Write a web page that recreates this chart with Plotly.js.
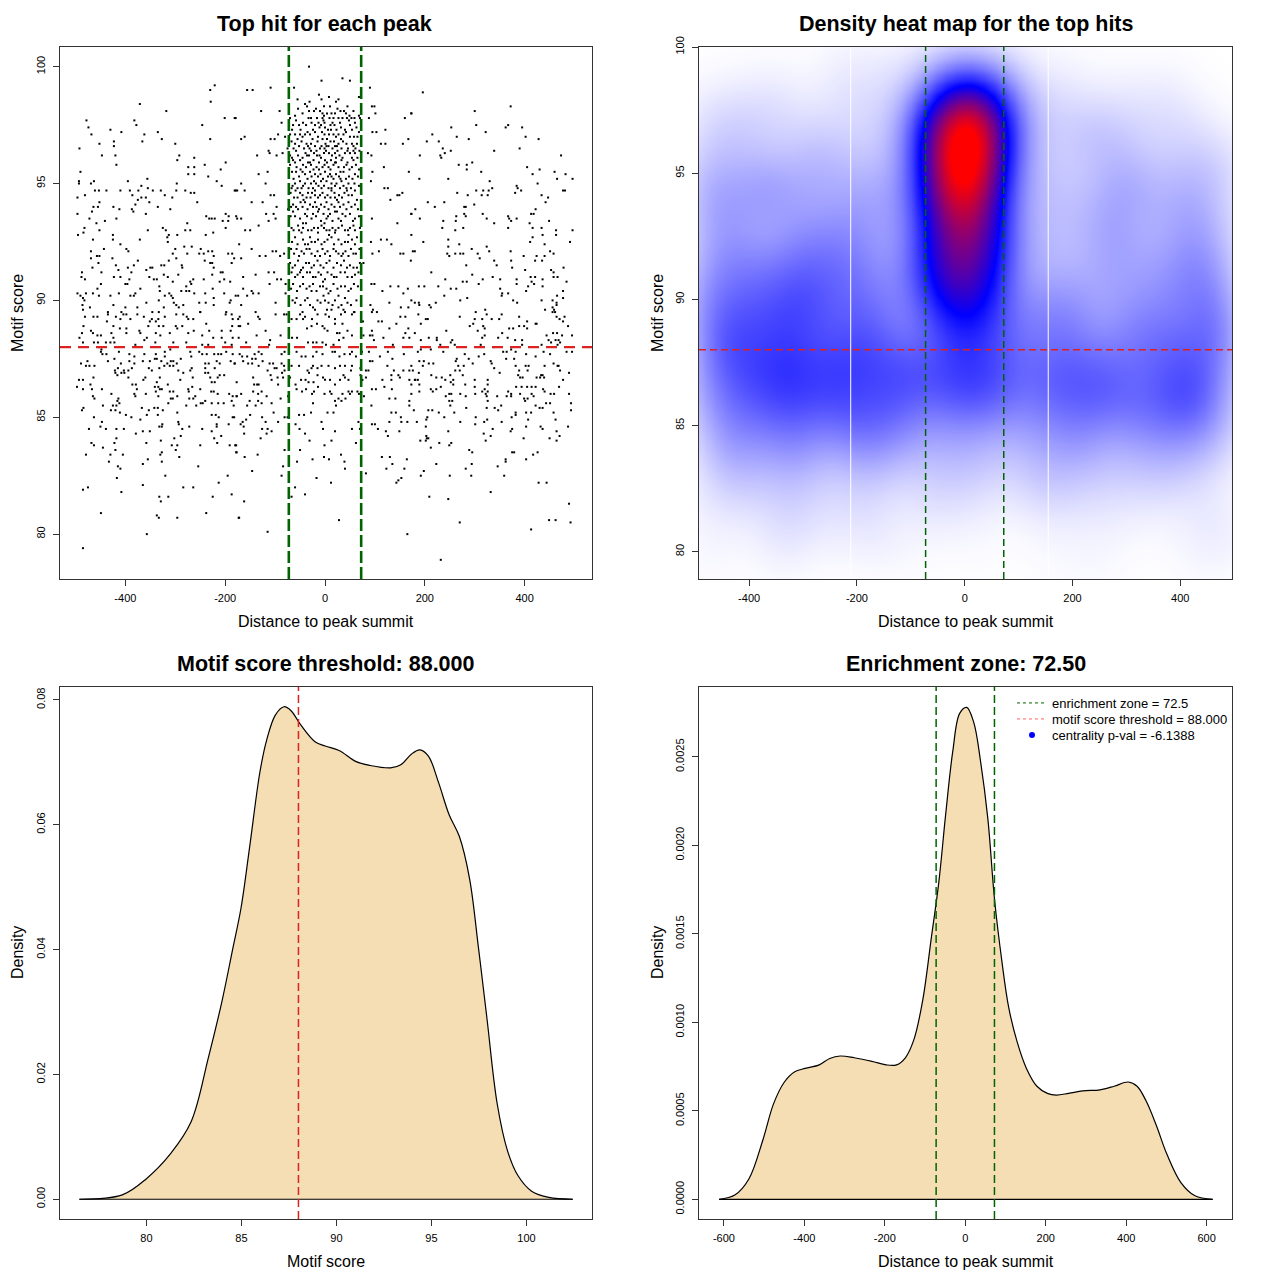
<!DOCTYPE html>
<html><head><meta charset="utf-8">
<script src="https://cdn.plot.ly/plotly-3.0.1.min.js"></script>
<style>body{margin:0;background:#fff}#chart{width:1280px;height:1280px}</style>
</head><body><div id="chart"></div>
<script>
const FONT = 'Liberation Sans, Arial, Helvetica, sans-serif';
const threshold = 88.0;
const enrichmentZone = 72.5;
const centralityPval = -6.1388;

// top hit per peak: [distance to summit, motif score], read region by region
const hitsA = [[-221,99.2],[-230,99.0],[-229,98.5],[-371,98.4],[-318,98.1],[-478,97.7],[-382,97.7],[-201,97.8],[-179,97.8],[-474,97.4],[-378,97.5],[-246,97.5],[-430,97.3],[-408,97.2],[-335,97.2],[-468,97.1],[-362,97.1],[-327,96.9],[-230,96.9],[-423,96.8],[-366,96.8],[-452,96.7],[-300,96.7],[-423,96.6],[-492,96.5],[-447,96.2],[-420,96.2],[-292,96.2],[-262,96.1],[-296,96.0],[-199,95.9],[-418,95.8],[-241,95.8],[-274,95.7],[-262,95.7],[-209,95.6],[-490,95.5],[-274,95.4],[-262,95.4],[-234,95.3],[-356,95.2],[-493,95.1],[-463,95.1],[-395,95.1],[-493,95.0],[-469,95.0],[-297,95.0],[-217,95.1],[-368,94.9],[-207,94.9],[-355,94.8],[-179,94.7],[-461,94.7],[-453,94.7],[-438,94.7],[-410,94.7],[-391,94.7],[-374,94.7],[-345,94.7],[-329,94.7],[-298,94.7],[-280,94.7],[-269,94.6],[-262,94.6],[-481,94.5],[-386,94.5],[-368,94.4],[-359,94.4],[-496,94.4],[-321,94.5],[-306,94.4],[-375,94.3],[-452,94.2],[-352,94.2],[-256,94.2],[-380,94.1],[-464,94.0],[-455,94.0],[-424,94.0],[-335,94.0],[-467,93.8],[-412,93.9],[-387,93.9],[-310,93.9],[-384,93.8],[-496,93.7],[-359,93.7],[-238,93.6],[-232,93.5],[-227,93.5],[-221,93.5],[-199,93.7],[-193,93.6],[-178,93.6],[-472,93.5],[-418,93.5],[-205,93.4],[-194,93.4],[-441,93.4],[-458,93.3],[-276,93.3],[-482,93.1],[-452,93.0],[-355,93.0],[-325,93.1],[-319,93.0],[-280,93.0],[-270,93.0],[-199,93.1],[-484,92.9],[-224,92.9],[-495,92.8],[-425,92.8],[-313,92.8],[-296,92.8],[-239,92.8],[-316,92.7],[-465,92.6],[-425,92.6],[-371,92.6],[-315,92.5],[-410,92.4],[-282,92.3],[-267,92.3],[-443,92.2],[-398,92.2],[-300,92.2],[-249,92.2],[-469,92.1],[-394,92.1],[-234,92.1],[-226,92.1],[-276,92.0],[-252,92.0],[-243,92.0],[-194,92.0],[-186,92.0],[-305,92.0],[-457,91.9],[-452,91.9],[-223,91.9],[-182,91.8],[-469,91.8],[-426,91.8],[-313,91.7],[-298,91.8],[-375,91.7],[-241,91.7],[-230,91.6],[-226,91.6],[-187,91.6],[-454,91.6],[-383,91.5],[-419,91.5],[-287,91.5],[-328,91.5],[-322,91.5],[-395,91.4],[-286,91.4],[-466,91.4],[-223,91.4],[-350,91.4],[-358,91.3],[-346,91.4],[-487,91.2],[-448,91.2],[-414,91.3],[-388,91.2],[-209,91.2],[-205,91.2],[-488,91.0],[-481,90.9],[-423,91.0],[-410,91.0],[-392,90.9],[-352,91.0],[-343,90.9],[-337,90.9],[-323,91.1],[-315,91.0],[-294,91.1],[-264,90.9],[-243,90.9],[-226,91.1],[-211,90.8],[-202,90.9],[-190,90.8],[-305,90.8],[-270,90.8],[-396,90.7],[-400,90.7],[-449,90.7],[-332,90.6],[-278,90.6],[-268,90.7],[-456,90.5],[-370,90.5],[-331,90.4],[-288,90.4],[-278,90.4],[-272,90.4],[-225,90.5],[-496,90.3],[-479,90.3],[-465,90.3],[-430,90.2],[-413,90.3],[-390,90.2],[-380,90.3],[-312,90.3],[-308,90.2],[-305,90.1],[-262,90.3],[-240,90.3],[-202,90.3],[-179,90.2],[-490,90.2],[-485,90.1],[-482,90.0],[-453,90.2],[-383,90.2],[-321,90.2],[-223,90.1],[-189,90.0],[-191,89.9],[-486,89.8],[-424,89.8],[-358,89.9],[-333,90.0],[-303,89.9],[-298,89.8],[-284,89.8],[-252,89.9],[-239,89.9],[-223,89.8],[-485,89.6],[-471,89.7],[-400,89.7],[-376,89.7],[-293,89.7],[-323,89.7],[-435,89.5],[-408,89.5],[-346,89.5],[-333,89.5],[-250,89.5],[-198,89.5]];
const hitsB = [[-32,100.0],[-62,99.1],[-7,99.4],[35,99.5],[50,99.4],[90,99.1],[-156,99.0],[-145,99.0],[-109,99.1],[68,98.7],[-31,98.5],[-7,98.6],[27,98.6],[-54,98.2],[-128,98.1],[-91,98.1],[94,98.3],[99,98.3],[-181,97.8],[160,97.8],[173,98.0],[101,98.0],[88,97.8],[-70,97.8],[-87,97.6],[121,97.3],[95,97.2],[103,97.2],[-161,97.0],[-168,96.9],[-109,96.9],[-101,96.9],[112,96.7],[121,96.7],[156,96.7],[167,96.9],[-136,96.2],[-113,96.4],[-111,96.3],[-97,96.2],[-85,96.3],[86,96.3],[93,96.2],[168,95.5],[-133,95.4],[-115,95.5],[95,95.5],[118,95.7],[-168,95.0],[-119,95.0],[92,95.1],[119,94.8],[126,94.8],[-181,94.7],[-176,94.7],[-161,94.7],[-109,94.5],[-102,94.5],[145,94.5],[155,94.6],[149,94.5],[-147,94.2],[-125,94.2],[131,94.3],[-97,94.0],[-118,93.7],[-103,93.7],[-99,93.5],[-176,93.5],[-168,93.5],[94,93.5],[145,93.3],[-160,93.0],[-150,93.0],[-133,93.2],[-113,93.4],[173,93.7],[-172,92.4],[-147,92.2],[-131,91.9],[-119,91.9],[-105,92.1],[-98,92.1],[-90,91.9],[-82,92.0],[92,92.5],[112,92.6],[124,92.6],[133,92.4],[151,92.0],[157,92.0],[172,91.7],[108,92.1],[95,92.0],[-168,91.8],[-113,91.2],[-102,91.2],[-164,91.0],[-139,91.1],[-96,90.9],[-88,90.9],[-111,90.7],[-79,90.7],[-72,90.6],[-164,90.5],[-147,90.4],[-133,90.3],[-174,90.2],[-156,90.2],[-144,90.3],[-79,90.3],[93,90.7],[99,90.7],[115,90.4],[131,90.6],[147,90.6],[157,90.3],[166,90.5],[-168,89.8],[-99,89.9],[-60,89.9],[91,89.8],[96,89.6],[129,89.9],[152,89.7],[167,89.7],[-139,89.5]];
const hitsC = [[-32,98.1],[-22,98.1],[-10,98.1],[-5,98.0],[4,98.0],[13,98.0],[20,98.0],[31,98.1],[38,98.1],[49,97.9],[59,97.8],[68,97.9],[70,97.8],[-28,97.8],[-16,97.8],[-5,97.8],[-3,97.7],[9,97.8],[17,97.8],[27,97.8],[35,97.8],[44,97.8],[53,97.8],[-64,97.5],[-52,97.5],[-38,97.5],[-27,97.6],[-20,97.5],[-8,97.5],[0,97.4],[11,97.5],[19,97.5],[32,97.4],[50,97.5],[60,97.6],[-94,97.1],[-70,97.1],[-60,97.1],[-50,97.1],[-40,97.1],[-30,97.1],[-20,97.2],[-1,97.1],[8,97.1],[17,97.1],[27,97.1],[37,97.1],[50,97.0],[58,97.0],[65,97.0],[-67,96.8],[-60,96.7],[-47,96.8],[-37,96.7],[-28,96.7],[-15,96.8],[-5,96.9],[1,96.7],[11,96.8],[18,96.8],[27,96.7],[36,96.8],[43,96.7],[54,96.7],[64,96.7],[57,96.6],[-34,96.6],[-7,96.6],[3,96.6],[20,96.6],[-70,96.2],[-54,96.2],[-39,96.3],[-32,96.2],[-22,96.3],[-11,96.2],[-2,96.3],[8,96.3],[20,96.3],[29,96.2],[40,96.3],[50,96.3],[60,96.3],[57,96.4],[25,96.4],[-17,96.4],[-64,96.0],[-50,96.0],[-34,95.9],[-23,96.0],[-12,95.9],[0,96.0],[12,96.0],[20,95.9],[33,96.0],[45,95.9],[57,96.0],[-57,95.7],[-44,95.8],[-28,95.8],[-17,95.7],[-5,95.7],[7,95.7],[17,95.8],[27,95.7],[43,95.8],[54,95.7],[-66,95.5],[-58,95.5],[-40,95.4],[-30,95.5],[-20,95.4],[-9,95.4],[0,95.5],[10,95.4],[22,95.4],[37,95.5],[48,95.3],[60,95.4],[-27,95.3],[13,95.3],[-60,95.0],[-50,95.1],[-40,95.0],[-28,95.0],[-18,95.0],[-8,95.1],[3,95.1],[13,95.0],[23,95.0],[33,95.1],[47,95.0],[59,95.0],[-67,94.8],[-47,94.8],[-24,94.8],[-7,94.8],[13,94.8],[30,94.8],[43,94.8],[60,94.7],[-69,94.6],[-59,94.7],[-45,94.5],[-34,94.6],[-20,94.5],[-5,94.6],[5,94.5],[19,94.6],[28,94.5],[39,94.6],[47,94.5],[-55,94.4],[-37,94.4],[-14,94.4],[20,94.4],[-64,94.1],[-49,94.2],[-40,94.2],[-30,94.1],[-20,94.2],[-8,94.1],[3,94.2],[13,94.1],[27,94.2],[37,94.1],[47,94.2],[60,94.1],[-68,94.0],[-17,94.0],[30,94.0],[-74,93.9],[-64,93.8],[-54,93.9],[-40,93.7],[-24,93.7],[-14,93.8],[-3,93.7],[10,93.7],[20,93.8],[35,93.7],[50,93.7],[60,93.5],[-60,93.6],[-27,93.5],[3,93.5],[27,93.5],[-67,93.1],[-54,93.2],[-44,93.1],[-34,93.0],[-22,93.1],[-7,93.2],[3,93.0],[15,93.1],[27,93.1],[40,93.0],[50,93.1],[60,93.0],[-47,92.9],[-14,92.9],[20,92.9],[47,92.8],[-60,92.7],[-44,92.6],[-27,92.5],[-14,92.6],[-1,92.5],[13,92.7],[27,92.6],[40,92.5],[54,92.6],[64,92.7],[-34,92.4],[-68,92.2],[-57,92.2],[-47,92.1],[-37,92.2],[-27,92.0],[-15,92.1],[-5,92.2],[5,92.1],[17,92.2],[27,92.0],[41,92.1],[52,92.2],[62,92.0],[-20,91.9],[33,91.9],[-70,91.6],[-60,91.5],[-44,91.4],[-32,91.6],[-22,91.5],[-9,91.5],[3,91.6],[17,91.4],[32,91.5],[44,91.4],[57,91.4],[64,91.4],[77,91.6],[-67,91.2],[-55,91.1],[-44,91.0],[-30,91.2],[-19,91.0],[-8,91.1],[0,90.9],[13,91.1],[23,91.0],[40,91.2],[54,91.0],[67,91.2],[-64,90.7],[-50,90.6],[-37,90.5],[-24,90.7],[-10,90.6],[3,90.5],[17,90.7],[32,90.6],[47,90.4],[58,90.7],[-27,90.4],[7,90.3],[-57,90.1],[-40,90.0],[-30,89.8],[-15,90.0],[-3,90.2],[7,89.9],[20,90.0],[33,89.8],[45,89.9],[27,90.2],[-20,89.6],[13,89.6],[37,89.6]];
// further dots inside the crowded central column that overlap in the picture
const hitsC2 = [[-12,98.8],[8,98.7],[-40,98.4],[22,98.5],[45,98.3],[-2,98.3],[-55,98.6],[-45,98.0],[-18,98.2],[-2,97.9],[10,98.3],[25,98.2],[42,98.0],[57,98.1],[-60,97.9],[-36,98.3],[-58,97.7],[-44,97.6],[-33,97.8],[-13,97.6],[-1,97.6],[6,97.3],[15,97.6],[23,97.3],[30,97.6],[40,97.3],[48,97.7],[63,97.4],[-49,97.3],[-24,97.3],[-11,97.4],[-66,97.3],[-55,96.9],[-45,97.0],[-35,97.2],[-25,96.9],[-14,97.0],[-6,97.2],[4,96.9],[12,97.3],[22,97.0],[32,96.9],[42,97.2],[54,97.3],[68,97.2],[-80,97.0],[-63,96.5],[-52,96.6],[-42,96.5],[-31,96.5],[-20,96.6],[-10,96.5],[-1,96.5],[7,96.6],[15,96.5],[24,96.6],[33,96.5],[46,96.5],[61,96.5],[69,96.4],[-75,96.5],[-66,96.1],[-58,96.4],[-45,96.1],[-28,96.4],[-8,96.1],[2,96.4],[14,96.2],[35,96.1],[45,96.4],[65,96.1],[-36,96.2],[-16,96.2],[22,96.1],[54,96.1],[-70,95.8],[-60,95.9],[-49,95.6],[-38,95.7],[-23,95.6],[-12,95.6],[-1,95.8],[11,95.6],[22,95.9],[31,95.5],[38,95.7],[49,95.6],[62,95.8],[-30,95.9],[4,95.9],[68,95.6],[-63,95.2],[-52,95.3],[-45,95.5],[-35,95.2],[-14,95.3],[-4,95.2],[6,95.3],[17,95.2],[28,95.3],[42,95.2],[55,95.2],[66,95.3],[-22,95.1],[31,95.2],[-65,94.9],[-55,94.8],[-44,94.9],[-33,94.8],[-13,94.9],[-2,94.9],[7,94.8],[20,94.9],[37,94.9],[52,94.8],[68,94.9],[-20,94.7],[44,94.7],[-62,94.4],[-50,94.6],[-29,94.4],[-10,94.5],[0,94.4],[11,94.4],[24,94.3],[34,94.4],[54,94.5],[64,94.3],[-43,94.3],[-26,94.6],[13,94.7],[-58,94.0],[-45,94.0],[-35,93.9],[-24,94.0],[-12,93.9],[-1,94.0],[7,93.9],[19,94.0],[43,93.9],[53,94.0],[66,93.9],[24,93.8],[-69,93.6],[-50,93.5],[-36,93.6],[-18,93.6],[-8,93.4],[6,93.6],[15,93.4],[32,93.4],[41,93.6],[56,93.4],[68,93.6],[-44,93.3],[-1,93.3],[-63,93.0],[-52,93.0],[-38,93.3],[-27,93.0],[-14,93.1],[-2,93.1],[9,93.0],[21,93.0],[34,93.2],[46,93.0],[57,93.2],[70,93.1],[-66,92.5],[-55,92.4],[-40,92.4],[-20,92.5],[-7,92.4],[5,92.6],[18,92.4],[33,92.4],[46,92.5],[60,92.4],[-30,92.7],[8,92.8],[-62,92.0],[-52,91.9],[-42,92.0],[-31,92.2],[-10,91.9],[0,92.0],[10,91.9],[22,92.1],[36,92.0],[47,91.9],[57,92.0],[69,92.2],[-65,91.4],[-54,91.7],[-38,91.6],[-27,91.4],[-15,91.7],[-3,91.4],[9,91.7],[24,91.6],[38,91.7],[50,91.5],[70,91.6],[-48,91.3],[-60,91.0],[-50,91.2],[-36,91.2],[-24,91.0],[-13,91.2],[5,91.2],[18,91.0],[31,91.2],[45,91.0],[60,91.1],[-4,90.8],[-68,90.5],[-56,90.4],[-44,90.7],[-31,90.6],[-17,90.4],[-4,90.6],[11,90.4],[25,90.5],[40,90.6],[52,90.5],[66,90.6],[-65,90.0],[-49,89.8],[-35,90.1],[-24,89.7],[-9,89.9],[0,90.0],[15,89.8],[27,89.7],[40,90.1],[52,89.8],[63,90.0],[-45,89.5],[4,89.6],[58,89.5]];
const hitsD = [[196,98.9],[173,98.0],[300,98.1],[372,98.3],[253,97.4],[303,97.5],[322,97.2],[362,97.4],[367,97.5],[395,97.4],[215,97.1],[264,97.0],[288,96.9],[402,97.0],[428,96.9],[204,96.8],[228,96.8],[236,96.5],[252,96.4],[240,96.3],[339,96.4],[390,96.5],[190,96.2],[231,96.2],[233,96.1],[473,96.2],[268,95.8],[284,95.8],[295,95.9],[284,95.6],[405,95.7],[416,95.4],[430,95.6],[313,95.5],[460,95.5],[482,95.4],[189,95.2],[247,95.2],[330,95.1],[465,95.2],[496,95.2],[426,95.0],[384,94.9],[386,94.8],[381,94.6],[393,94.7],[303,94.7],[317,94.7],[328,94.7],[335,94.8],[265,94.6],[286,94.5],[314,94.5],[326,94.5],[477,94.7],[481,94.7],[434,94.5],[447,94.4],[442,94.2],[206,94.2],[239,94.2],[220,94.0],[181,93.9],[299,94.1],[279,94.0],[282,94.0],[422,93.9],[279,93.7],[282,93.6],[173,93.7],[316,93.7],[413,93.7],[418,93.7],[190,93.5],[263,93.6],[324,93.5],[367,93.6],[369,93.5],[384,93.5],[373,93.4],[237,93.4],[262,93.4],[339,93.3],[410,93.3],[449,93.4],[235,93.1],[261,93.0],[277,93.1],[367,93.1],[416,93.1],[434,93.1],[463,93.0],[496,93.0],[463,92.8],[436,92.8],[416,92.7],[173,92.8],[247,92.6],[197,92.5],[411,92.5],[491,92.5],[269,92.4],[440,92.4],[247,92.3],[324,92.3],[294,92.2],[329,92.1],[372,92.1],[451,92.1],[176,92.1],[180,92.1],[245,92.0],[249,91.9],[261,92.0],[271,92.0],[277,92.0],[306,92.0],[458,92.0],[310,91.8],[398,91.9],[424,91.9],[440,91.9],[421,91.7],[435,91.7],[339,91.7],[373,91.7],[344,91.5],[283,91.5],[375,91.4],[453,91.3],[478,91.4],[213,91.2],[401,91.3],[458,91.2],[295,91.1],[241,90.9],[276,90.8],[284,90.8],[316,90.9],[336,91.0],[351,90.9],[384,90.9],[412,91.0],[421,91.0],[436,90.9],[458,91.0],[466,91.0],[484,90.8],[308,90.7],[384,90.7],[407,90.6],[414,90.8],[419,90.7],[436,90.6],[477,90.4],[188,90.6],[199,90.6],[227,90.6],[252,90.5],[263,90.5],[351,90.5],[403,90.4],[239,90.2],[355,90.3],[354,90.2],[367,90.3],[465,90.2],[477,90.1],[285,90.1],[271,90.0],[377,90.0],[385,89.9],[434,90.0],[456,90.0],[464,89.9],[188,89.9],[189,89.8],[209,89.8],[212,89.7],[222,89.9],[464,89.8],[456,89.7],[302,89.5],[321,89.6],[441,89.6],[459,89.6],[461,89.5],[173,90.0],[180,89.9]];
const hitsE = [[-481,89.3],[-464,89.3],[-456,89.3],[-435,89.4],[-419,89.3],[-410,89.2],[-404,89.4],[-398,89.4],[-390,89.2],[-376,89.4],[-363,89.3],[-347,89.2],[-334,89.2],[-321,89.3],[-298,89.4],[-284,89.4],[-277,89.3],[-274,89.2],[-264,89.2],[-250,89.5],[-199,89.4],[-187,89.4],[-185,89.2],[-484,88.9],[-437,89.1],[-424,88.9],[-411,88.8],[-398,88.8],[-372,88.7],[-354,88.9],[-351,89.1],[-339,89.1],[-333,88.9],[-324,88.9],[-299,88.9],[-296,88.8],[-286,88.9],[-263,88.7],[-238,89.0],[-232,88.7],[-207,88.7],[-189,88.7],[-186,88.9],[-469,88.7],[-487,88.6],[-465,88.6],[-456,88.5],[-449,88.5],[-428,88.6],[-398,88.6],[-370,88.6],[-362,88.3],[-357,88.4],[-339,88.6],[-330,88.5],[-311,88.6],[-274,88.6],[-246,88.5],[-224,88.4],[-207,88.4],[-185,88.4],[-492,88.4],[-424,88.4],[-485,88.2],[-463,88.2],[-455,88.2],[-439,88.2],[-430,88.2],[-422,88.2],[-380,88.1],[-340,88.2],[-304,88.2],[-278,88.2],[-246,88.1],[-234,88.1],[-200,88.2],[-187,88.1],[-453,88.0],[-448,87.9],[-449,87.8],[-446,87.7],[-438,87.7],[-413,87.8],[-392,87.7],[-382,87.6],[-362,87.7],[-339,87.7],[-321,87.8],[-310,87.9],[-321,87.6],[-270,87.8],[-252,87.8],[-246,87.7],[-237,87.7],[-222,87.7],[-214,87.7],[-208,87.7],[-198,87.8],[-185,87.7],[-422,87.5],[-435,87.4],[-409,87.3],[-392,87.4],[-382,87.3],[-365,87.4],[-351,87.4],[-337,87.5],[-341,87.5],[-328,87.4],[-309,87.4],[-304,87.4],[-316,87.3],[-289,87.5],[-268,87.6],[-240,87.3],[-233,87.3],[-217,87.4],[-211,87.3],[-189,87.4],[-181,87.3],[-489,87.3],[-476,87.4],[-479,87.2],[-472,87.2],[-462,87.2],[-421,87.0],[-415,87.1],[-420,86.9],[-408,86.9],[-403,87.0],[-394,87.0],[-402,86.9],[-387,87.1],[-353,87.1],[-347,87.0],[-332,87.1],[-322,87.2],[-311,87.2],[-297,87.3],[-304,87.2],[-294,87.0],[-284,86.9],[-270,87.0],[-267,87.1],[-240,87.1],[-221,87.1],[-240,86.9],[-234,86.9],[-211,86.8],[-202,86.8],[-464,86.7],[-416,86.8],[-394,86.7],[-360,86.7],[-364,86.6],[-331,86.7],[-337,86.5],[-315,86.4],[-290,86.6],[-265,86.7],[-230,86.7],[-227,86.5],[-221,86.5],[-215,86.7],[-177,86.5],[-493,86.6],[-485,86.6],[-470,86.4],[-497,86.3],[-485,86.2],[-467,86.2],[-447,86.2],[-379,86.4],[-386,86.4],[-377,86.2],[-341,86.3],[-334,86.3],[-331,86.2],[-327,86.2],[-311,86.1],[-304,86.1],[-274,86.2],[-273,86.1],[-266,86.3],[-250,86.2],[-223,86.1],[-228,86.1],[-215,86.0],[-192,86.0],[-185,85.9],[-177,85.9],[-465,85.9],[-462,85.8],[-428,86.0],[-382,86.0],[-380,85.9],[-359,86.0],[-339,86.1],[-334,85.9],[-309,85.8],[-296,85.9],[-305,85.8],[-272,85.8],[-264,85.8],[-260,85.9],[-240,85.7],[-245,85.6],[-249,85.6],[-258,85.5],[-227,85.6],[-214,85.6],[-203,85.6],[-187,85.7],[-183,85.5],[-414,85.8],[-416,85.7],[-412,85.6],[-445,85.5],[-425,85.5],[-418,85.5],[-420,85.3],[-484,85.4],[-487,85.3],[-429,85.3],[-367,85.4],[-353,85.3],[-342,85.4],[-335,85.4],[-325,85.3],[-314,85.6],[-278,85.5],[-296,85.2],[-411,85.2],[-399,85.1],[-388,85.0],[-463,85.0],[-370,84.9],[-357,85.1],[-335,85.1],[-227,85.1],[-219,85.1],[-213,85.0],[-185,85.0],[-182,85.0],[-447,84.8],[-450,84.6],[-217,84.7],[-193,84.7],[-294,84.8],[-293,84.7],[-326,84.7],[-332,84.6],[-327,84.6],[-217,84.6],[-473,84.5],[-439,84.5],[-418,84.5],[-403,84.5],[-365,84.4],[-351,84.4],[-272,84.6],[-246,84.5],[-286,84.5],[-227,84.4],[-379,84.3],[-289,84.2],[-302,84.1],[-418,84.1],[-222,84.1],[-208,84.2],[-468,83.9],[-463,83.8],[-422,83.9],[-358,83.9],[-329,84.0],[-307,83.8],[-296,83.8],[-250,83.8],[-216,83.9],[-191,83.8],[-180,83.8],[-445,83.7],[-299,83.6],[-420,83.6],[-479,83.4],[-430,83.4],[-405,83.4],[-327,83.5],[-177,83.5],[-355,83.2],[-292,83.3],[-330,83.4],[-433,83.1],[-365,83.0],[-327,83.1],[-415,82.9],[-410,82.8],[-254,82.9],[-320,82.5],[-195,82.5],[-417,82.4],[-213,82.2],[-365,82.1],[-284,82.0],[-264,82.0],[-475,82.0],[-485,81.9],[-408,81.8],[-332,81.6],[-314,81.6],[-329,81.4],[-225,81.6],[-187,81.7],[-449,80.9],[-337,80.8],[-333,80.7],[-296,80.7],[-238,80.9],[-173,80.7],[-357,80.0],[-485,79.4]];
const hitsF = [[-171,89.3],[-174,89.2],[-134,89.3],[-131,89.2],[-99,89.4],[-82,89.4],[-77,89.4],[-67,89.2],[-57,89.2],[-50,89.4],[-40,89.3],[-44,89.2],[-26,89.2],[-15,89.4],[1,89.4],[8,89.3],[20,89.2],[32,89.4],[40,89.5],[54,89.4],[59,89.5],[94,89.5],[104,89.5],[107,89.1],[151,89.3],[161,89.3],[-154,89.0],[-173,88.9],[-170,88.9],[-119,88.7],[-89,88.5],[-36,88.8],[-27,88.9],[-16,89.0],[-5,88.9],[-1,88.8],[5,88.7],[20,89.0],[35,89.0],[24,88.6],[29,88.6],[45,88.7],[76,89.1],[94,88.7],[114,89.1],[129,88.8],[143,89.0],[167,88.8],[-173,88.4],[-137,88.5],[-110,88.3],[-112,88.1],[-158,88.2],[-66,88.4],[-56,88.4],[-34,88.2],[-24,88.2],[-17,88.2],[-5,88.2],[2,88.1],[17,88.1],[28,88.3],[37,88.4],[54,88.5],[77,88.5],[90,88.5],[95,88.5],[98,88.3],[117,88.4],[136,88.1],[157,88.4],[169,88.4],[161,88.6],[-171,87.7],[-166,87.6],[-156,87.6],[-146,87.5],[-141,87.7],[-133,87.8],[-127,87.7],[-139,87.5],[-125,87.4],[-111,87.3],[-87,87.7],[-81,87.8],[-57,87.8],[-47,87.6],[-39,87.6],[-24,87.6],[-17,87.8],[-5,87.7],[15,87.8],[20,87.8],[29,87.6],[39,87.7],[50,87.7],[54,87.8],[62,87.6],[74,87.8],[88,87.8],[110,87.6],[126,87.8],[135,87.5],[158,87.7],[-181,87.3],[-164,87.4],[-154,87.3],[-146,87.3],[-133,87.2],[-115,87.0],[-104,87.3],[-101,87.1],[-82,87.2],[-81,87.0],[-97,87.1],[-87,87.3],[-67,87.2],[-52,87.2],[-32,86.9],[-35,87.0],[-27,87.1],[-24,87.2],[-15,87.1],[-7,87.2],[7,87.2],[20,87.1],[30,87.2],[40,87.2],[54,87.2],[52,87.0],[71,87.1],[82,87.0],[87,87.0],[90,87.4],[95,87.4],[125,87.2],[138,87.0],[133,86.8],[147,86.8],[157,87.0],[169,87.0],[-144,86.7],[-142,86.4],[-136,86.4],[-133,86.4],[-109,86.8],[-107,86.6],[-95,86.7],[-94,86.4],[-84,86.7],[-86,86.9],[-70,86.7],[-59,86.4],[-48,86.6],[-39,86.6],[-33,86.5],[-23,86.5],[-15,86.8],[-4,86.7],[0,86.6],[10,86.6],[20,86.4],[30,86.6],[37,86.8],[40,86.7],[47,86.6],[71,86.8],[75,86.6],[82,86.7],[115,86.6],[133,86.6],[150,86.7],[169,86.6],[180,86.6],[94,86.2],[102,86.2],[119,86.3],[134,86.2],[-177,85.9],[-168,86.0],[-144,86.1],[-134,86.0],[-127,86.1],[-117,85.9],[-74,85.9],[-57,86.2],[-46,86.1],[-38,86.2],[-22,86.1],[-26,86.0],[-14,86.3],[-1,86.0],[10,86.1],[13,86.0],[35,86.0],[47,86.1],[50,86.0],[54,86.1],[65,86.1],[68,86.0],[78,85.9],[27,85.8],[41,85.8],[20,85.7],[72,85.7],[33,85.7],[-156,85.5],[-151,85.7],[-139,85.5],[-134,85.7],[-127,85.6],[-107,85.6],[-89,85.8],[-24,85.6],[22,85.5],[93,85.5],[129,85.8],[141,85.8],[169,85.7],[169,85.5],[-103,85.2],[-94,84.8],[-81,85.0],[-75,85.0],[-52,85.1],[-42,85.1],[-28,85.2],[-7,84.8],[5,85.2],[17,85.2],[67,84.8],[133,85.2],[142,85.2],[152,85.0],[153,84.8],[165,84.8],[129,84.8],[94,84.7],[100,84.7],[-165,84.8],[-169,84.7],[-158,84.9],[-150,85.1],[-126,85.0],[-119,84.8],[-115,84.5],[-126,84.5],[-117,84.3],[-107,84.4],[-59,84.7],[-51,84.5],[-40,84.3],[-4,84.5],[20,84.4],[54,84.5],[70,84.5],[106,84.5],[122,84.4],[126,84.2],[149,84.4],[-163,84.6],[-162,84.3],[-129,84.1],[-31,84.0],[-1,83.8],[13,84.0],[62,83.9],[-178,83.8],[-178,83.5],[-81,83.6],[-50,83.6],[-161,83.3],[-135,83.4],[-25,83.2],[-2,83.3],[8,83.2],[32,83.4],[39,83.1],[114,83.3],[130,83.3],[164,83.2],[-146,82.7],[-84,82.9],[-56,83.1],[40,82.8],[123,82.8],[135,83.0],[159,82.8],[-87,82.5],[-17,82.4],[82,82.6],[147,82.3],[143,82.2],[153,82.4],[12,82.2],[-60,82.0],[-40,81.7],[-67,81.6],[-162,81.4],[-172,80.7],[28,80.6],[-115,80.1],[165,80.0]];
const hitsG = [[187,89.4],[202,89.2],[206,89.2],[270,89.3],[300,89.2],[315,89.2],[324,89.4],[334,89.2],[349,89.2],[354,89.4],[389,89.3],[405,89.1],[456,89.5],[464,89.3],[470,89.2],[477,89.1],[480,89.3],[192,89.0],[297,89.0],[290,88.9],[317,88.9],[320,88.8],[369,88.8],[377,88.8],[389,88.9],[399,88.9],[405,88.8],[422,89.0],[424,89.0],[487,88.9],[180,88.6],[243,88.7],[306,88.7],[355,88.6],[192,88.3],[208,88.4],[224,88.4],[224,88.3],[255,88.3],[252,88.2],[260,88.1],[315,88.4],[320,88.5],[347,88.4],[366,88.4],[381,88.3],[395,88.3],[444,88.5],[457,88.6],[465,88.6],[475,88.5],[495,88.5],[448,88.3],[453,88.2],[462,88.3],[468,88.3],[471,88.2],[466,88.1],[434,88.1],[231,88.1],[312,88.1],[339,88.0],[395,88.1],[186,87.8],[192,87.9],[212,87.9],[237,87.8],[280,87.7],[308,87.6],[319,87.7],[357,87.8],[364,87.8],[373,87.9],[382,87.8],[403,87.7],[422,87.6],[438,87.8],[451,87.7],[484,87.8],[495,87.8],[173,87.2],[189,87.4],[198,87.4],[208,87.3],[217,87.3],[196,87.2],[264,87.5],[262,87.4],[288,87.5],[296,87.3],[332,87.4],[334,87.3],[363,87.5],[379,87.5],[267,87.2],[278,87.2],[339,87.1],[382,87.2],[402,87.2],[408,87.2],[440,87.2],[458,87.3],[468,87.2],[176,87.0],[188,86.9],[213,86.8],[223,86.7],[234,86.7],[241,86.6],[251,86.8],[257,86.6],[261,87.0],[270,87.0],[276,86.8],[300,86.6],[326,86.6],[350,86.9],[389,87.0],[387,86.8],[391,86.7],[396,86.7],[406,87.0],[424,86.7],[431,86.7],[433,86.8],[436,86.8],[439,86.7],[466,87.2],[471,87.0],[489,86.9],[477,86.6],[173,86.4],[181,86.6],[186,86.6],[189,86.4],[212,86.2],[223,86.2],[232,86.3],[252,86.5],[257,86.4],[281,86.4],[300,86.3],[320,86.2],[326,86.4],[326,86.1],[367,86.1],[383,86.3],[394,86.3],[405,86.3],[414,86.3],[422,86.3],[437,86.2],[440,86.1],[469,86.3],[173,86.0],[189,86.1],[216,86.1],[242,85.9],[249,86.0],[253,86.0],[271,86.0],[282,85.9],[301,86.0],[315,86.1],[322,86.0],[324,85.9],[345,85.9],[364,85.9],[373,86.0],[373,85.9],[391,86.0],[401,85.7],[399,85.8],[406,85.8],[414,86.0],[418,85.9],[452,86.0],[459,86.0],[489,86.0],[249,85.7],[255,85.7],[251,85.5],[326,85.7],[353,85.5],[324,85.4],[340,85.4],[347,85.3],[422,85.5],[430,85.4],[436,85.4],[443,85.6],[451,85.6],[493,85.6],[178,85.3],[207,85.3],[215,85.3],[228,85.2],[259,85.2],[283,85.4],[493,85.3],[382,85.2],[403,85.2],[413,85.2],[239,85.0],[302,85.0],[325,84.9],[374,85.0],[382,85.1],[407,84.9],[462,84.9],[203,84.9],[205,85.0],[184,84.8],[271,84.8],[301,84.7],[319,84.8],[354,84.8],[458,85.2],[202,84.6],[247,84.4],[403,84.6],[432,84.6],[436,84.5],[487,84.6],[336,84.5],[375,84.5],[372,84.4],[318,84.3],[332,84.2],[464,84.4],[470,84.2],[203,84.2],[204,84.1],[207,84.1],[191,84.0],[202,84.0],[322,84.0],[398,84.1],[450,84.1],[464,84.0],[212,83.7],[229,83.9],[253,83.9],[249,83.8],[289,83.6],[295,83.5],[375,83.5],[379,83.5],[426,83.5],[417,83.4],[403,83.2],[362,83.2],[362,83.1],[223,83.0],[294,83.0],[282,82.8],[346,82.9],[198,82.7],[192,82.5],[250,82.5],[293,82.5],[359,82.5],[428,82.2],[444,82.2],[332,81.8],[209,81.6],[247,81.5],[489,81.3],[449,80.6],[462,80.6],[492,80.5],[270,80.5],[413,80.2],[232,78.9]];

// kernel density of motif scores (panel 3)
const scoreDensX = [76.47,78.73,80.0,81.27,82.35,83.26,83.98,84.52,84.98,85.43,85.97,86.33,86.79,87.24,87.60,88.14,88.87,89.41,90.14,91.04,91.76,92.85,93.39,93.94,94.39,94.84,95.38,95.93,96.47,97.01,97.47,97.92,98.46,99.00,99.55,100.27,101.18,102.44];
const scoreDensY = [0,0.0007,0.0033,0.0073,0.0124,0.0227,0.0318,0.0398,0.0467,0.0564,0.0684,0.0736,0.0776,0.0789,0.0783,0.0759,0.0733,0.0726,0.0719,0.0701,0.0695,0.0691,0.0696,0.0713,0.0720,0.0710,0.0667,0.0616,0.0581,0.0513,0.0404,0.0290,0.0153,0.0078,0.0038,0.0013,0.0003,0];
// kernel density of distances (panel 4)
const distDensX = [-612,-573,-538,-503,-477,-451,-425,-398,-363,-337,-311,-276,-232,-197,-171,-149,-128,-106,-84,-66,-49,-31,-14,3.5,21,38,56,73,91,108,130,152,178,204,226,257,292,335,370,405,427,449,475,501,536,571,615];
const distDensY = [0,0.000024,0.000115,0.000337,0.000538,0.000659,0.000720,0.000740,0.000760,0.000796,0.000810,0.000800,0.000780,0.000760,0.000760,0.000800,0.000901,0.001123,0.001486,0.001788,0.002171,0.002534,0.002746,0.00278,0.002695,0.002474,0.002151,0.001687,0.001345,0.001083,0.000881,0.000740,0.000639,0.000599,0.000589,0.000599,0.000613,0.000619,0.000639,0.000663,0.000639,0.000558,0.000417,0.000256,0.000095,0.00002,0];

const distTicks = [-400,-200,0,200,400];
const distTicksWide = [-600,-400,-200,0,200,400,600];
const scoreTicks = [80,85,90,95,100];
const densScoreTicks = [0,0.02,0.04,0.06,0.08];
const densScoreLabels = ['0.00','0.02','0.04','0.06','0.08'];
const densDistTicks = [0,0.0005,0.001,0.0015,0.002,0.0025];
const densDistLabels = ['0.0000','0.0005','0.0010','0.0015','0.0020','0.0025'];
const heatSeams = [-211.5, 155];

const allHits = [].concat(hitsA, hitsB, hitsC, hitsC2, hitsD, hitsE, hitsF, hitsG);
const distance = allHits.map(p => p[0]);
const score = allHits.map(p => p[1]);

// 2D kernel density for the heat map
const HX = [-493, 496], HY = [78.92, 100];
const NX = 160, NY = 160;
const gx = Array.from({length: NX}, (_, i) => HX[0] + (i + 0.5) * (HX[1] - HX[0]) / NX);
const gy = Array.from({length: NY}, (_, j) => HY[0] + (j + 0.5) * (HY[1] - HY[0]) / NY);
const bwX = 42, bwY = 1.15;
const kx = gx.map(g => distance.map(x => Math.exp(-0.5 * ((g - x) / bwX) ** 2)));
const ky = gy.map(g => score.map(y => Math.exp(-0.5 * ((g - y) / bwY) ** 2)));
const zHeat = gy.map((_, j) => gx.map((_, i) => {
  let s = 0; const a = ky[j], b = kx[i];
  for (let k = 0; k < a.length; k++) s += a[k] * b[k];
  return s;
}));
let zMax = 0; zHeat.forEach(r => r.forEach(v => { if (v > zMax) zMax = v; }));

const W = 1280;
const domL = [60 / W, 592 / W], domR = [699 / W, 1232 / W];
const domT = [1 - 579 / W, 1 - 47 / W], domB = [1 - 1219 / W, 1 - 687 / W];

function ax(extra) {
  return Object.assign({
    showline: true, mirror: true, linecolor: '#333', linewidth: 1,
    ticks: 'outside', ticklen: 6, tickwidth: 1, tickcolor: '#333',
    showgrid: false, zeroline: false, fixedrange: true,
    tickfont: {family: FONT, size: 11, color: '#000'}, tickmode: 'array'
  }, extra);
}
const xa = extra => ax(Object.assign({ticklabelstandoff: 3}, extra));
const ya = extra => ax(Object.assign({tickangle: -90, ticklabelstandoff: 4}, extra));
const fmt = v => String(v);

const traces = [
  {type: 'scatter', mode: 'markers', x: distance, y: score, xaxis: 'x', yaxis: 'y',
   marker: {color: '#000', size: 2, symbol: 'square', line: {width: 0}}, showlegend: false, hoverinfo: 'skip'},
  {type: 'heatmap', x: gx, y: gy, z: zHeat, xaxis: 'x2', yaxis: 'y2', zmin: 0, zmax: zMax,
   colorscale: [[0, '#ffffff'], [0.48, '#0000ff'], [0.94, '#ff0000'], [1, '#ff0000']], showscale: false, zsmooth: 'best', hoverinfo: 'skip'},
  {type: 'scatter', mode: 'lines', x: scoreDensX, y: scoreDensY, xaxis: 'x3', yaxis: 'y3',
   fill: 'tozeroy', fillcolor: '#F5DEB3', line: {color: '#000', width: 1.2, shape: 'spline', smoothing: 1}, showlegend: false, hoverinfo: 'skip'},
  {type: 'scatter', mode: 'lines', x: [scoreDensX[0], scoreDensX[scoreDensX.length - 1]], y: [0, 0], xaxis: 'x3', yaxis: 'y3',
   line: {color: '#000', width: 1.2}, showlegend: false, hoverinfo: 'skip'},
  {type: 'scatter', mode: 'lines', x: distDensX, y: distDensY, xaxis: 'x4', yaxis: 'y4',
   fill: 'tozeroy', fillcolor: '#F5DEB3', line: {color: '#000', width: 1.2, shape: 'spline', smoothing: 1}, showlegend: false, hoverinfo: 'skip'},
  {type: 'scatter', mode: 'lines', x: [distDensX[0], distDensX[distDensX.length - 1]], y: [0, 0], xaxis: 'x4', yaxis: 'y4',
   line: {color: '#000', width: 1.2}, showlegend: false, hoverinfo: 'skip'},
  {type: 'scatter', mode: 'lines', x: [null], y: [null], xaxis: 'x4', yaxis: 'y4', legend: 'legend',
   name: 'enrichment zone = ' + enrichmentZone, line: {color: '#006400', width: 1, dash: 'dot'}},
  {type: 'scatter', mode: 'lines', x: [null], y: [null], xaxis: 'x4', yaxis: 'y4', legend: 'legend2',
   name: 'motif score threshold = ' + threshold.toFixed(3), line: {color: '#ff6060', width: 1, dash: 'dot'}},
  {type: 'scatter', mode: 'markers', x: [null], y: [null], xaxis: 'x4', yaxis: 'y4', legend: 'legend3',
   name: 'centrality p-val = ' + centralityPval, marker: {color: '#0000ff', size: 6}}
];

const vline = (xref, x, color, width, dash) => ({type: 'line', xref: xref, yref: xref.replace('x', 'y') + ' domain', x0: x, x1: x, y0: 0, y1: 1, line: {color, width, dash}});
const hline = (yref, y, color, width, dash) => ({type: 'line', yref: yref, xref: yref.replace('y', 'x') + ' domain', y0: y, y1: y, x0: 0, x1: 1, line: {color, width, dash}});

const shapes = [
  vline('x', -enrichmentZone, '#006400', 2.6, '12px,4px'),
  vline('x', enrichmentZone, '#006400', 2.6, '12px,4px'),
  hline('y', threshold, '#dd2222', 2.4, '11px,7px'),
  ...heatSeams.map(s => vline('x2', s, '#ffffff', 1, 'solid')),
  vline('x2', -enrichmentZone, '#006400', 1.5, '7px,4px'),
  vline('x2', enrichmentZone, '#006400', 1.5, '7px,4px'),
  hline('y2', threshold, '#e02020', 1.5, '7px,4px'),
  vline('x3', threshold, '#e02020', 1.5, '8px,4px'),
  vline('x4', -enrichmentZone, '#006400', 1.5, '8px,4px'),
  vline('x4', enrichmentZone, '#006400', 1.5, '8px,4px')
];

const px = v => v / W, py = v => 1 - v / W;
const ann = (text, x, y, size, bold, angle) => ({text: bold ? '<b>' + text + '</b>' : text, x: px(x), y: py(y), xref: 'paper', yref: 'paper',
  showarrow: false, xanchor: 'center', yanchor: 'middle', textangle: angle || 0, font: {family: FONT, size: size, color: '#000'}});
const annotations = [
  ann('Top hit for each peak', 324, 24, 21.5, true),
  ann('Density heat map for the top hits', 966, 24, 21.5, true),
  ann('Motif score threshold: ' + threshold.toFixed(3), 326, 664, 21.5, true),
  ann('Enrichment zone: ' + enrichmentZone.toFixed(2), 966, 664, 21.5, true),
  ann('Distance to peak summit', 326, 621, 16),
  ann('Distance to peak summit', 966, 621, 16),
  ann('Motif score', 326, 1261, 16),
  ann('Distance to peak summit', 966, 1261, 16),
  ann('Motif score', 17, 313, 16, false, -90),
  ann('Motif score', 657, 313, 16, false, -90),
  ann('Density', 17, 953, 16, false, -90),
  ann('Density', 657, 953, 16, false, -90)
];

const leg = y => ({x: px(1012), y: py(y), xanchor: 'left', yanchor: 'middle', bgcolor: 'rgba(0,0,0,0)',
  font: {family: FONT, size: 13, color: '#000'}, itemwidth: 30, borderwidth: 0});

const layout = {
  width: 1280, height: 1280, margin: {l: 0, r: 0, t: 0, b: 0},
  paper_bgcolor: '#fff', plot_bgcolor: '#fff', font: {family: FONT, color: '#000'},
  xaxis: xa({domain: domL, anchor: 'y', range: [-531, 535], tickvals: distTicks, ticktext: distTicks.map(fmt)}),
  yaxis: ya({domain: domT, anchor: 'x', range: [78.08, 100.84], tickvals: scoreTicks, ticktext: scoreTicks.map(fmt)}),
  xaxis2: xa({domain: domR, anchor: 'y2', range: HX, tickvals: distTicks, ticktext: distTicks.map(fmt)}),
  yaxis2: ya({domain: domT, anchor: 'x2', range: HY, tickvals: scoreTicks, ticktext: scoreTicks.map(fmt)}),
  xaxis3: xa({domain: domL, anchor: 'y3', range: [75.45, 103.45], tickvals: scoreTicks, ticktext: scoreTicks.map(fmt)}),
  yaxis3: ya({domain: domB, anchor: 'x3', range: [-0.00316, 0.08206], tickvals: densScoreTicks, ticktext: densScoreLabels}),
  xaxis4: xa({domain: domR, anchor: 'y4', range: [-662, 663], tickvals: distTicksWide, ticktext: distTicksWide.map(fmt)}),
  yaxis4: ya({domain: domB, anchor: 'x4', range: [-0.000111, 0.002895], tickvals: densDistTicks, ticktext: densDistLabels}),
  shapes: shapes, annotations: annotations,
  legend: leg(703), legend2: leg(719), legend3: leg(735),
  showlegend: true
};

Plotly.newPlot('chart', traces, layout, {displayModeBar: false, staticPlot: true});
</script>
</body></html>
